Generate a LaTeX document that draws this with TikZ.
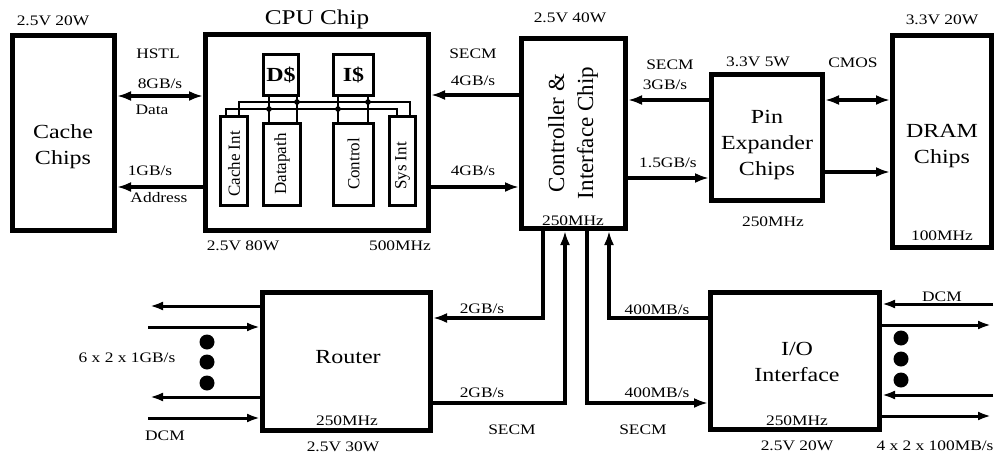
\documentclass[tikz,border=0pt]{standalone}
\usepackage{fontspec}
\setmainfont[FakeStretch=1.2]{Liberation Serif}
\newfontfamily\rotfont{Liberation Serif}
\usetikzlibrary{arrows.meta}
\begin{document}
\begin{tikzpicture}[x=1pt,y=-1pt,
  box/.style={draw, line width=5pt, inner sep=0pt},
  ibox/.style={draw, line width=3pt, inner sep=0pt},
  lab/.style={inner sep=0pt, font=\fontsize{14.5}{16}\selectfont},
  big/.style={inner sep=0pt, align=center, font=\fontsize{20}{26}\selectfont},
  rlab/.style={inner sep=0pt, rotate=90, font=\rotfont\fontsize{17}{20}\selectfont},
  tipa/.tip={Latex[length=14pt,width=10pt]},
  arr/.style={line width=3.5pt, -tipa},
  darr/.style={line width=3.5pt, tipa-tipa},
  thinarr/.style={line width=3pt, -{Latex[length=13pt,width=9pt]}},
  bus/.style={line width=1.5pt},
  dotc/.style={fill=black}
]
\useasboundingbox (0,0) rectangle (1005,458);

% ---------- main boxes ----------
\node[box, minimum width=102pt, minimum height=195pt] (cache) at (63.5,133) {};
\node[box, minimum width=223pt, minimum height=196pt] (cpu) at (317,132.5) {};
\node[box, minimum width=104pt, minimum height=190pt] (ctrl) at (573.5,133.5) {};
\node[box, minimum width=111pt, minimum height=126pt] (pin) at (767,137.5) {};
\node[box, minimum width=99pt, minimum height=212pt] (dram) at (942,141.5) {};
\node[box, minimum width=168pt, minimum height=138pt] (router) at (346.5,361.5) {};
\node[box, minimum width=169pt, minimum height=137pt] (io) at (795,361) {};

% ---------- box texts ----------
\node[big] (tcache) at (63,147) {Cache\\Chips};
\node[big] (tdram) at (942,146) {DRAM\\Chips};
\node[big] (tpin) at (767,145) {Pin\\Expander\\Chips};
\node[big] (trouter) at (348,357) {Router};
\node[big] (tio) at (797,362) {I/O\\Interface};
\node[inner sep=0pt, font=\fontsize{21}{24}\selectfont] (tcpu) at (317,19) {CPU Chip};
\node[inner sep=0pt, rotate=90, align=center, font=\rotfont\fontsize{23}{29}\selectfont] (tctrl) at (573,133) {Controller \&\\Interface Chip};

% ---------- CPU internals ----------
\node[ibox, minimum width=35pt, minimum height=41pt, font=\bfseries\fontsize{20}{22}\selectfont] (dc) at (281,75) {D\$};
\node[ibox, minimum width=40pt, minimum height=41pt, font=\bfseries\fontsize{20}{22}\selectfont] (ic) at (353.5,75) {I\$};
\node[ibox, minimum width=27pt, minimum height=89pt] (cint) at (234,161) {};
\node[ibox, minimum width=37pt, minimum height=82pt] (dp) at (282,164.5) {};
\node[ibox, minimum width=40pt, minimum height=82pt] (ctl) at (353.5,164.5) {};
\node[ibox, minimum width=26pt, minimum height=89pt] (sint) at (402.5,161) {};
\node[rlab] (tcint) at (234,164) {Cache Int};
\node[rlab] (tdp) at (282,164) {Datapath};
\node[rlab] (tctl) at (353.5,164) {Control};
\node[rlab] (tsint) at (402.5,166) {Sys Int};

\coordinate (lo1) at (226,109);
\coordinate (lo2) at (397,109);
\coordinate (hi1) at (239,102);
\coordinate (hi2) at (410,102);
\draw[bus] (cint.north -| lo1) -- (lo1) -- (lo2) -- (sint.north -| lo2);
\draw[bus] (cint.north -| hi1) -- (hi1) -- (hi2) -- (sint.north -| hi2);
\coordinate (v1) at (269,109);
\coordinate (v2) at (297,102);
\coordinate (v3) at (338,109);
\coordinate (v4) at (368,102);
\draw[bus] (dc.south -| v1) -- (dp.north -| v1);
\draw[bus] (dc.south -| v2) -- (dp.north -| v2);
\draw[bus] (ic.south -| v3) -- (ctl.north -| v3);
\draw[bus] (ic.south -| v4) -- (ctl.north -| v4);
\foreach \p in {v1,v2,v3,v4} \fill[dotc] (\p) circle (2.8);

% ---------- top connectors ----------
\coordinate (yA) at (0,96);
\coordinate (yB) at (0,187);
\coordinate (yC) at (0,95);
\coordinate (yD) at (0,187);
\coordinate (yE) at (0,100);
\coordinate (yF) at (0,178);
\coordinate (yG) at (0,100);
\coordinate (yH) at (0,172);
\draw[darr] (cache.east |- yA) -- (cpu.west |- yA);
\draw[arr] (cpu.west |- yB) -- (cache.east |- yB);
\draw[arr] (ctrl.west |- yC) -- (cpu.east |- yC);
\draw[arr] (cpu.east |- yD) -- (ctrl.west |- yD);
\draw[arr] (pin.west |- yE) -- (ctrl.east |- yE);
\draw[arr] (ctrl.east |- yF) -- (pin.west |- yF);
\draw[darr] (pin.east |- yG) -- (dram.west |- yG);
\draw[arr] (pin.east |- yH) -- (dram.west |- yH);

% ---------- bottom connectors ----------
\coordinate (c1) at (543,318);
\coordinate (c2) at (565,403);
\coordinate (c3) at (587,403);
\coordinate (c4) at (609,318);
\draw[arr] (ctrl.south -| c1) -- (c1) -- (router.east |- c1);
\draw[arr] (router.east |- c2) -- (c2) -- (ctrl.south -| c2);
\draw[arr] (ctrl.south -| c3) -- (c3) -- (io.west |- c3);
\draw[arr] (io.west |- c4) -- (c4) -- (ctrl.south -| c4);

% ---------- router external links ----------
\coordinate (r1) at (150,306);
\coordinate (r2) at (148,327);
\coordinate (r3) at (150,397);
\coordinate (r4) at (148,418);
\draw[thinarr] (router.west |- r1) -- (r1);
\draw[thinarr] (r2) -- (router.west |- r2);
\draw[thinarr] (router.west |- r3) -- (r3);
\draw[thinarr] (r4) -- (router.west |- r4);
\fill[dotc] (207,342) circle (7.5);
\fill[dotc] (207,362) circle (7.5);
\fill[dotc] (207,383) circle (7.5);

% ---------- I/O external links ----------
\coordinate (s1) at (993,304);
\coordinate (s2) at (991,325);
\coordinate (s3) at (993,395);
\coordinate (s4) at (991,416);
\draw[thinarr] (s1) -- (io.east |- s1);
\draw[thinarr] (io.east |- s2) -- (s2);
\draw[thinarr] (s3) -- (io.east |- s3);
\draw[thinarr] (io.east |- s4) -- (s4);
\fill[dotc] (901,338) circle (7.5);
\fill[dotc] (901,359) circle (7.5);
\fill[dotc] (901,380) circle (7.5);

% ---------- labels ----------
\node[lab] (l1) at (53,21) {2.5V 20W};
\node[lab] (l2) at (158,54) {HSTL};
\node[lab] (l3) at (160,84) {8GB/s};
\node[lab] (l4) at (152,110) {Data};
\node[lab] (l5) at (150,171) {1GB/s};
\node[lab] (l6) at (159,198) {Address};
\node[lab] (l7) at (473,54) {SECM};
\node[lab] (l8) at (473,81) {4GB/s};
\node[lab] (l9) at (473,171) {4GB/s};
\node[lab] (l10) at (243,246) {2.5V 80W};
\node[lab] (l11) at (400,246) {500MHz};
\node[lab] (l12) at (570,18) {2.5V 40W};
\node[lab] (l13) at (573,221) {250MHz};
\node[lab] (l14) at (670,65) {SECM};
\node[lab] (l15) at (665,85) {3GB/s};
\node[lab] (l16) at (668,163) {1.5GB/s};
\node[lab] (l17) at (758,62) {3.3V 5W};
\node[lab] (l18) at (773,222) {250MHz};
\node[lab] (l19) at (853,63) {CMOS};
\node[lab] (l20) at (942,20) {3.3V 20W};
\node[lab] (l21) at (942,236) {100MHz};
\node[lab] (l22) at (127,358) {6 x 2 x 1GB/s};
\node[lab] (l23) at (165,436) {DCM};
\node[lab] (l24) at (347,421) {250MHz};
\node[lab] (l25) at (343,447) {2.5V 30W};
\node[lab] (l26) at (482,309) {2GB/s};
\node[lab] (l27) at (482,393) {2GB/s};
\node[lab] (l28) at (512,430) {SECM};
\node[lab] (l29) at (657,310) {400MB/s};
\node[lab] (l30) at (657,393) {400MB/s};
\node[lab] (l31) at (643,430) {SECM};
\node[lab] (l32) at (797,421) {250MHz};
\node[lab] (l33) at (797,446) {2.5V 20W};
\node[lab] (l34) at (935,446) {4 x 2 x 100MB/s};
\node[lab] (l35) at (942,297) {DCM};
\end{tikzpicture}
\end{document}
